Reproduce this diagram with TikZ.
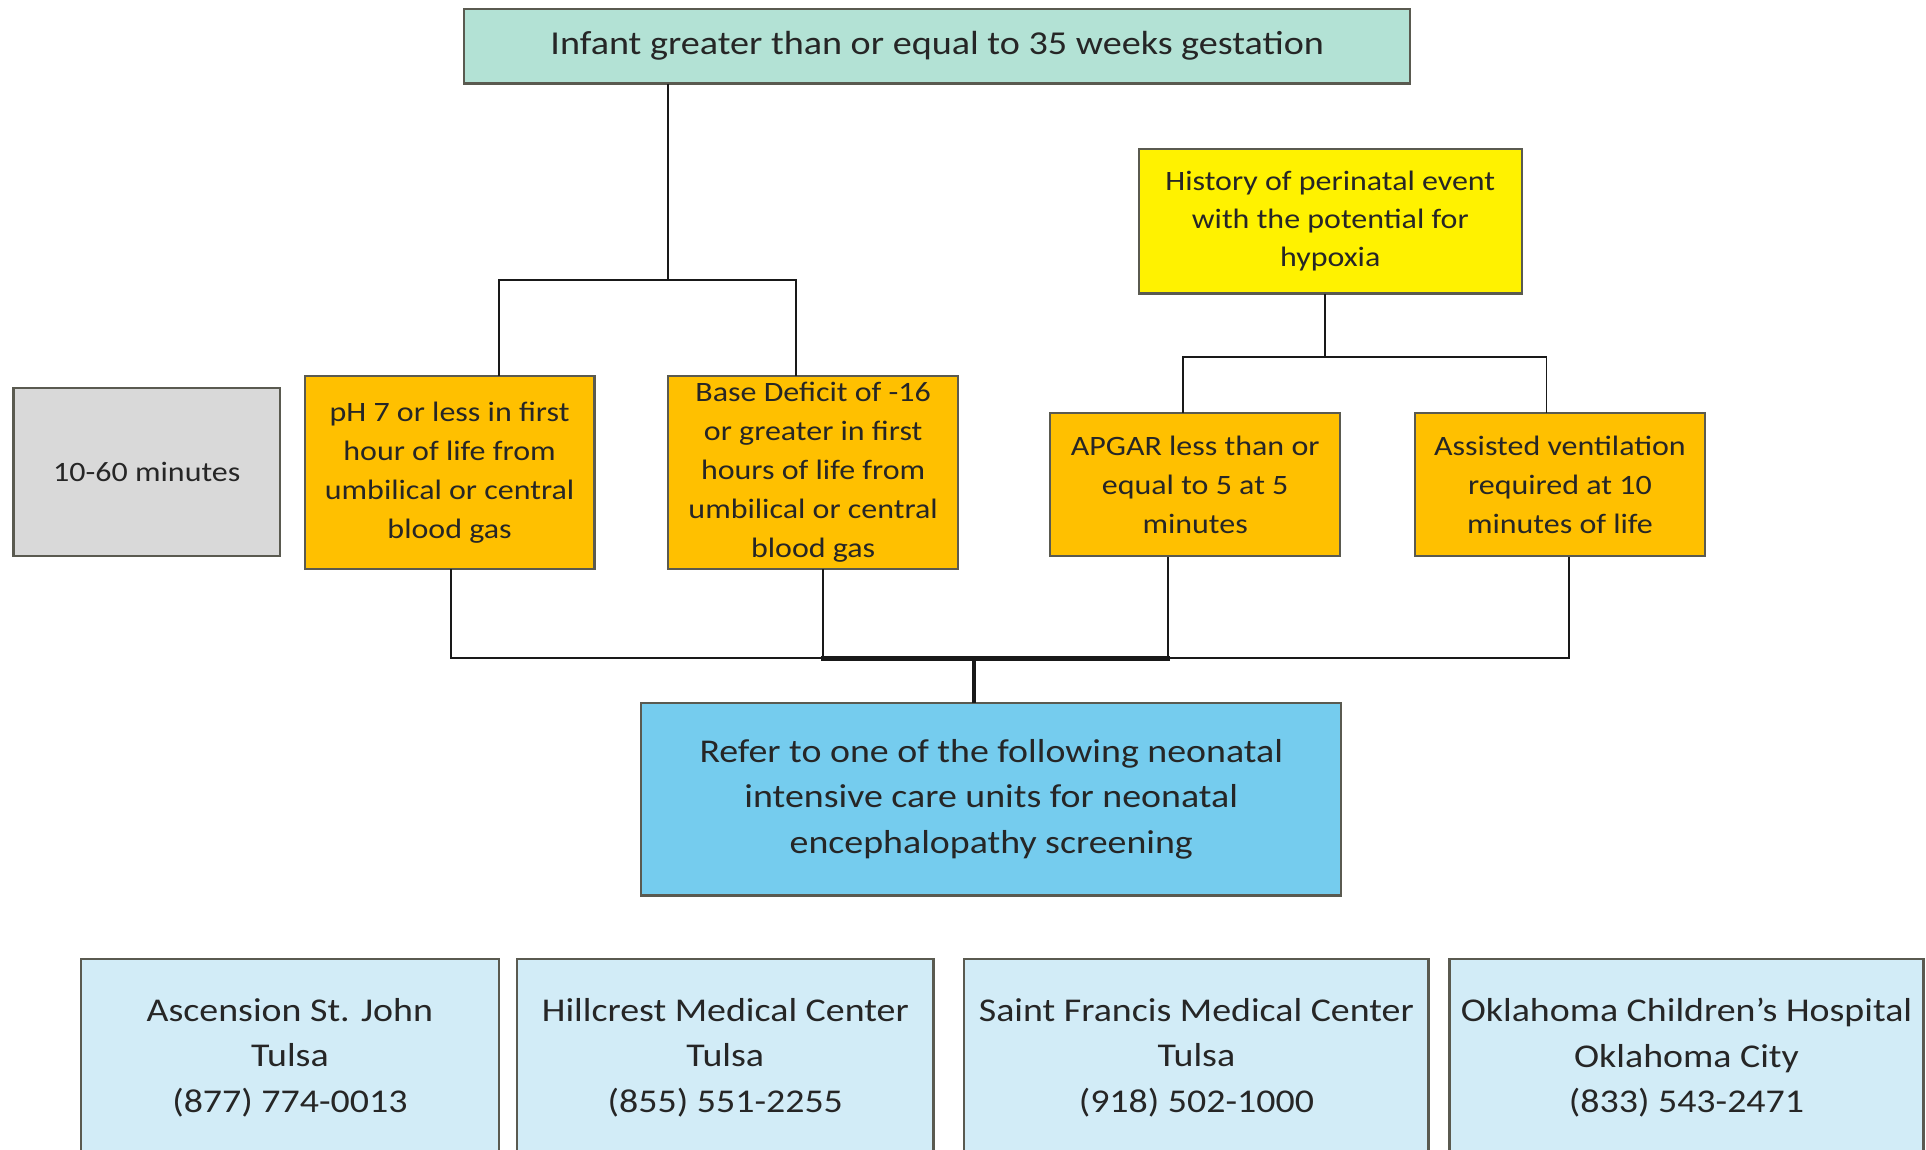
\documentclass[tikz,border=0pt]{standalone}
\usepackage{fontspec}
\setmainfont{Carlito}[FakeStretch=1.14]
\usepackage{tikz}
\usetikzlibrary{positioning}
\definecolor{mintgreen}{RGB}{179,226,213}
\definecolor{amber}{RGB}{255,192,0}
\definecolor{lightgrey}{RGB}{217,217,217}
\definecolor{skyblue}{RGB}{117,204,238}
\definecolor{paleblue}{RGB}{210,236,247}
\definecolor{edgegrey}{RGB}{90,90,80}

\begin{document}
\begin{tikzpicture}[x=0.02cm,y=-0.02cm,line cap=rect,line join=miter,
  box/.style={draw=edgegrey,line width=1pt,inner sep=0pt,align=center,text=black!85},
  crit/.style={box,fill=amber,minimum width=4.72cm,font=\fontsize{13}{18.1}\selectfont},
  unit/.style={box,fill=paleblue,minimum height=3.2cm,font=\fontsize{15.4}{21}\selectfont},
  link/.style={line width=0.9pt,black!90}]
\useasboundingbox (0,0) rectangle (1568,936);
% top row
\node[box,fill=mintgreen,minimum width=15.4cm,minimum height=1.22cm,font=\fontsize{15.5}{19}\selectfont] (infant) at (763,37.5) {Infant greater than or equal to 35 weeks gestation};
\node[box,fill=yellow,minimum width=6.24cm,minimum height=2.36cm,font=\fontsize{13}{17.6}\selectfont] (history) at (1083,180) {History of perinatal event\\with the potential for\\hypoxia};
% criteria
\node[box,fill=lightgrey,minimum width=4.34cm,minimum height=2.74cm,font=\fontsize{13}{17.6}\selectfont] (window) at (119.5,384.5) {10-60 minutes};
\node[crit,minimum height=3.14cm] (ph) at (366,384.5) {pH 7 or less in first\\hour of life from\\umbilical or central\\blood gas};
\node[crit,minimum height=3.14cm] (deficit) at (662,384.5) {Base Deficit of -16\\or greater in first\\hours of life from\\umbilical or central\\blood gas};
\node[crit,minimum height=2.34cm] (apgar) at (973,394.5) {APGAR less than or\\equal to 5 at 5\\minutes};
\node[crit,minimum height=2.34cm] (vent) at (1270,394.5) {Assisted ventilation\\required at 10\\minutes of life};
% referral
\node[box,fill=skyblue,minimum width=11.4cm,minimum height=3.14cm,font=\fontsize{15.4}{21}\selectfont] (refer) at (807,650.5) {Refer to one of the following neonatal\\intensive care units for neonatal\\encephalopathy screening};
% units
\node[unit,minimum width=6.8cm] (stjohn) at (236,861) {Ascension St. John\\Tulsa\\(877) 774-0013};
\node[unit,minimum width=6.78cm] (hillcrest) at (590.5,861) {Hillcrest Medical Center\\Tulsa\\(855) 551-2255};
\node[unit,minimum width=7.56cm] (francis) at (974,861) {Saint Francis Medical Center\\Tulsa\\(918) 502-1000};
\node[unit,minimum width=7.72cm] (okc) at (1373,861) {Oklahoma Children's Hospital\\Oklahoma City\\(833) 543-2471};
% connectors
\coordinate (t0) at (544,228);
\coordinate (tl) at (406,228);
\coordinate (tr) at (648,228);
\draw[link] (t0 |- infant.south) -- (t0);
\draw[link] (tl |- ph.north) -- (tl) -- (tr) -- (tr |- deficit.north);
\coordinate (h0) at (1079,291);
\coordinate (hl) at (963,291);
\coordinate (hr) at (1259,291);
\draw[link] (h0 |- history.south) -- (h0);
\draw[link] (hl |- apgar.north) -- (hl) -- (hr) -- (hr |- vent.north);
\coordinate (j1) at (367,536);
\coordinate (j2) at (670,536);
\coordinate (j3) at (951,536);
\coordinate (j4) at (1277,536);
\coordinate (jm) at (793,536);
\draw[link] (j1 |- ph.south) -- (j1) -- (j4) -- (j4 |- vent.south);
\draw[link] (j2 |- deficit.south) -- (j2);
\draw[link] (j3 |- apgar.south) -- (j3);
\draw[link,line width=2pt] (j2) -- (j3);
\draw[link,line width=1.6pt] (jm) -- (jm |- refer.north);
\end{tikzpicture}
\end{document}
